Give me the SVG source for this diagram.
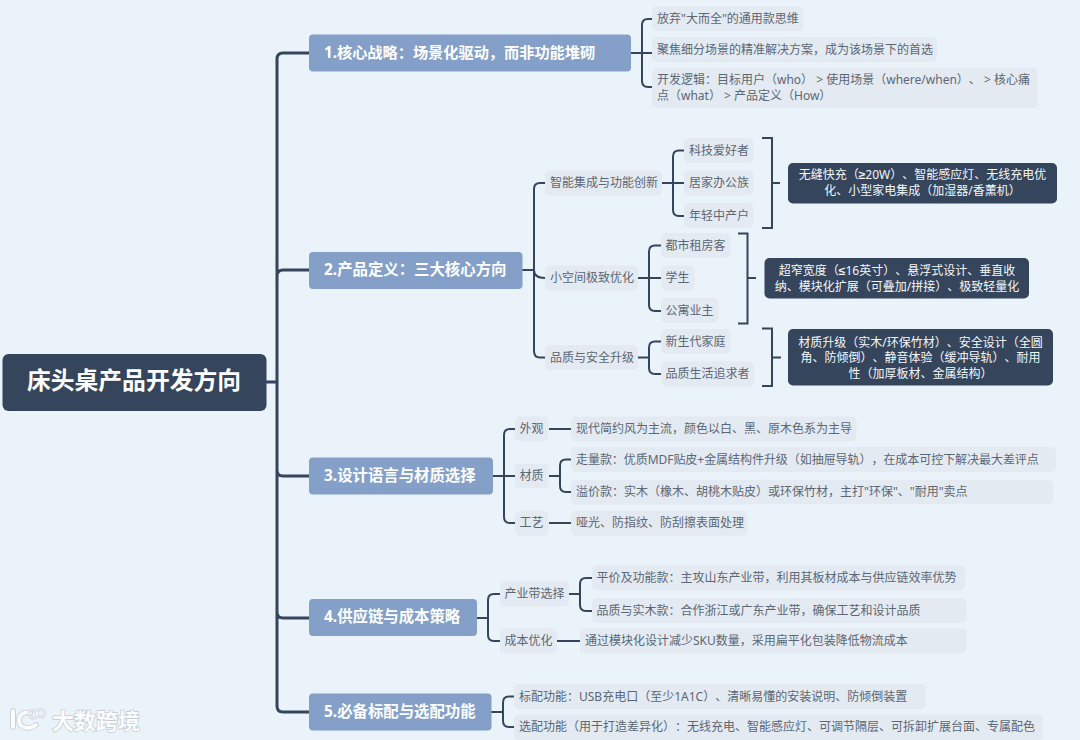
<svg xmlns="http://www.w3.org/2000/svg" width="1080" height="740" viewBox="0 0 1080 740">
<style>
text{font-family:"Noto Sans","Noto Sans CJK SC",sans-serif;dominant-baseline:central;text-spacing-trim:space-all}
.s rect{fill:#e4eaf1}
.s text{font-size:12px;fill:#5b6775}
.d rect{fill:#34455c}
.d text{font-size:12px;fill:#f4f7fa;text-anchor:middle}
.d tspan{font-family:"Liberation Sans",sans-serif;font-weight:700}
.b rect{fill:#84a0c9}
.b text{font-size:15.400px;font-weight:700;fill:#fff}
.t{fill:none;stroke:#34455c;stroke-width:3}
.c{fill:none;stroke:#34455c;stroke-width:2}
.wm{font-size:22px;font-weight:700;fill:#fbfcfd;stroke:#c3c9cf;stroke-width:1.400;paint-order:stroke}
</style>
<rect width="1080" height="740" fill="#ebf3fa"/>
<g id="connectors">
<path class="t" d="M266 382H277M309 53H283Q277 53 277 59V706Q277 712 283 712H309M309 270H283Q277 270 277 276M309 476H283Q277 476 277 470M277 612Q277 618 283 618H309"/>
<path class="c" d="M631 53H642M652 19H648Q642 19 642 25V81Q642 87 648 87H652M642 53H652"/>
<path class="c" d="M522 270H534M545 183H540Q534 183 534 189V351Q534 357.500 540 357.500H545M534 270Q534 278 545 278"/>
<path class="c" d="M662 183H684M684 150.500H679Q673 150.500 673 156.500V210Q673 216 679 216H684"/>
<path class="c" d="M762 138H772V228H762M772 183H780"/>
<path class="c" d="M638 278H661M661 245.500H655Q649 245.500 649 251.500V305Q649 311 655 311H661"/>
<path class="c" d="M738 233.500H747.500V323.500H738M747.500 278H756"/>
<path class="c" d="M638 357.500H649M661 341.500H655Q649 341.500 649 347.500V368Q649 374 655 374H661"/>
<path class="c" d="M762 328.500H772V386H762M772 357.500H781"/>
<path class="c" d="M493 476H515M515 429H510Q504 429 504 435V517Q504 523 510 523H515"/>
<path class="c" d="M549 429H571M549 523H571M549 476H560M571 459.500H566Q560 459.500 560 465.500V486Q560 492 566 492H571"/>
<path class="c" d="M477 618H488M500 594H494Q488 594 488 600V635Q488 641 494 641H500"/>
<path class="c" d="M569 594H580M592 578H586Q580 578 580 584V605Q580 611 586 611H592M557 641H580"/>
<path class="c" d="M491 712H503M514 696.500H509Q503 696.500 503 702.500V721Q503 727 509 727H514"/>
</g>
<g id="root"><rect x="2.500" y="354" width="264" height="57" rx="6" fill="#34455c"/><text x="134" y="380" font-size="23.800" font-weight="700" fill="#fff" text-anchor="middle">床头桌产品开发方向</text></g>
<g id="b1" class="b"><rect x="309" y="34.500" width="322" height="37" rx="4"/><text x="324" y="52" style="font-size:15.200px">1.核心战略：场景化驱动，而非功能堆砌</text></g>
<g id="b2" class="b"><rect x="309" y="252" width="213.500" height="37" rx="4"/><text x="324" y="269">2.产品定义：三大核心方向</text></g>
<g id="b3" class="b"><rect x="309" y="457.500" width="184" height="37" rx="4"/><text x="324" y="475">3.设计语言与材质选择</text></g>
<g id="b4" class="b"><rect x="309" y="599" width="168" height="37" rx="4"/><text x="324" y="616.500">4.供应链与成本策略</text></g>
<g id="b5" class="b"><rect x="309" y="693.500" width="182.500" height="37" rx="4"/><text x="324" y="711">5.必备标配与选配功能</text></g>
<g id="n1a" class="s"><rect x="652" y="6" width="151.500" height="25" rx="5"/><text x="657" y="18">放弃"大而全"的通用款思维</text></g>
<g id="n1b" class="s"><rect x="652" y="37" width="285" height="25" rx="5"/><text x="657" y="49">聚焦细分场景的精准解决方案，成为该场景下的首选</text></g>
<g id="n1c" class="s"><rect x="652" y="67.500" width="386" height="40.500" rx="5"/><text x="657" y="79.500">开发逻辑：目标用户（who） &gt; 使用场景（where/when）、 &gt; 核心痛</text><text x="657" y="95">点（what） &gt; 产品定义（How）</text></g>
<g id="n2a" class="s"><rect x="545" y="170.500" width="117" height="25" rx="5"/><text x="550" y="182.500">智能集成与功能创新</text></g>
<g id="n2a1" class="s"><rect x="684" y="138" width="69.500" height="25" rx="5"/><text x="689" y="150">科技爱好者</text></g>
<g id="n2a2" class="s"><rect x="684" y="170.500" width="69.500" height="25" rx="5"/><text x="689" y="182.500">居家办公族</text></g>
<g id="n2a3" class="s"><rect x="684" y="203" width="69.500" height="25" rx="5"/><text x="689" y="215">年轻中产户</text></g>
<g id="n2as" class="d"><rect x="788" y="163" width="269" height="40.500" rx="5"/><text x="922.500" y="174.500">无缝快充（<tspan>≥</tspan>20W）、智能感应灯、无线充电优</text><text x="922.500" y="190">化、小型家电集成（加湿器/香薰机）</text></g>
<g id="n2b" class="s"><rect x="545" y="265.500" width="93" height="25" rx="5"/><text x="550" y="277.500">小空间极致优化</text></g>
<g id="n2b1" class="s"><rect x="661" y="233" width="69.500" height="25" rx="5"/><text x="665.500" y="245">都市租房客</text></g>
<g id="n2b2" class="s"><rect x="661" y="265.500" width="33.500" height="25" rx="5"/><text x="665.500" y="277.500">学生</text></g>
<g id="n2b3" class="s"><rect x="661" y="298" width="57.500" height="25" rx="5"/><text x="665.500" y="310">公寓业主</text></g>
<g id="n2bs" class="d"><rect x="764.500" y="258" width="264.500" height="40.500" rx="5"/><text x="897" y="270.500">超窄宽度（<tspan>≤</tspan>16英寸）、悬浮式设计、垂直收</text><text x="897" y="286">纳、模块化扩展（可叠加/拼接）、极致轻量化</text></g>
<g id="n2c" class="s"><rect x="545" y="345" width="93" height="25" rx="5"/><text x="550" y="357">品质与安全升级</text></g>
<g id="n2c1" class="s"><rect x="661" y="329" width="69.500" height="25" rx="5"/><text x="665.500" y="341">新生代家庭</text></g>
<g id="n2c2" class="s"><rect x="661" y="361.500" width="93" height="25" rx="5"/><text x="665.500" y="373.500">品质生活追求者</text></g>
<g id="n2cs" class="d"><rect x="788" y="329" width="265" height="56.500" rx="5"/><text x="920.500" y="342">材质升级（实木/环保竹材）、安全设计（全圆</text><text x="920.500" y="357.500">角、防倾倒）、静音体验（缓冲导轨）、耐用</text><text x="920.500" y="373">性（加厚板材、金属结构）</text></g>
<g id="n3a" class="s"><rect x="515" y="416.500" width="33.500" height="25" rx="5"/><text x="519.500" y="428.500">外观</text></g>
<g id="n3a1" class="s"><rect x="571" y="416.500" width="285.500" height="25" rx="5"/><text x="576" y="428.500">现代简约风为主流，颜色以白、黑、原木色系为主导</text></g>
<g id="n3b" class="s"><rect x="515" y="463.500" width="33.500" height="25" rx="5"/><text x="519.500" y="475.500">材质</text></g>
<g id="n3b1" class="s"><rect x="571" y="447" width="485" height="25" rx="5"/><text x="576" y="459" letter-spacing="-0.05">走量款：优质MDF贴皮+金属结构件升级（如抽屉导轨），在成本可控下解决最大差评点</text></g>
<g id="n3b2" class="s"><rect x="571" y="479.500" width="482" height="25" rx="5"/><text x="576" y="491.500">溢价款：实木（橡木、胡桃木贴皮）或环保竹材，主打"环保"、"耐用"卖点</text></g>
<g id="n3c" class="s"><rect x="515" y="510.500" width="33.500" height="25" rx="5"/><text x="519.500" y="522.500">工艺</text></g>
<g id="n3c1" class="s"><rect x="571" y="510.500" width="176.500" height="25" rx="5"/><text x="576" y="522.500">哑光、防指纹、防刮擦表面处理</text></g>
<g id="n4a" class="s"><rect x="500" y="581.500" width="69" height="25" rx="5"/><text x="504.500" y="593.500">产业带选择</text></g>
<g id="n4a1" class="s"><rect x="592" y="565.500" width="373" height="25" rx="5"/><text x="596.500" y="577.500">平价及功能款：主攻山东产业带，利用其板材成本与供应链效率优势</text></g>
<g id="n4a2" class="s"><rect x="592" y="598" width="374.500" height="25" rx="5"/><text x="596.500" y="610">品质与实木款：合作浙江或广东产业带，确保工艺和设计品质</text></g>
<g id="n4b" class="s"><rect x="500" y="628.500" width="57" height="25" rx="5"/><text x="504.500" y="640.500">成本优化</text></g>
<g id="n4b1" class="s"><rect x="580" y="628.500" width="386.500" height="25" rx="5"/><text x="585" y="640.500">通过模块化设计减少SKU数量，采用扁平化包装降低物流成本</text></g>
<g id="n5a" class="s"><rect x="514" y="684" width="412" height="25" rx="5"/><text x="519" y="696">标配功能：USB充电口（至少1A1C）、清晰易懂的安装说明、防倾倒装置</text></g>
<g id="n5b" class="s"><rect x="514" y="714.500" width="529" height="25.500" rx="5"/><text x="519" y="726.500">选配功能（用于打造差异化）：无线充电、智能感应灯、可调节隔层、可拆卸扩展台面、专属配色</text></g>
<g id="watermark">
<path d="M13 711V727M30 713C22 711 19 716 19 720C19 727 27 731 36 725" fill="none" stroke="#c3c9cf" stroke-width="5.500" stroke-linecap="round"/>
<path d="M13 711V727M30 713C22 711 19 716 19 720C19 727 27 731 36 725" fill="none" stroke="#fbfcfd" stroke-width="4" stroke-linecap="round"/>
<circle cx="33" cy="714" r="4" fill="none" stroke="#c3c9cf" stroke-width="2.400"/><circle cx="41" cy="713" r="4" fill="none" stroke="#c3c9cf" stroke-width="2.400"/>
<circle cx="33" cy="714" r="4" fill="none" stroke="#fbfcfd" stroke-width="1.200"/><circle cx="41" cy="713" r="4" fill="none" stroke="#fbfcfd" stroke-width="1.200"/>
<text class="wm" x="52" y="720">大数跨境</text>
</g>
</svg>
